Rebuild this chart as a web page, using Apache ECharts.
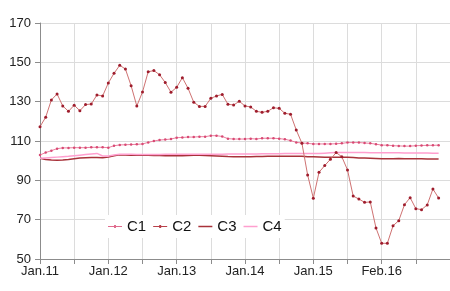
<!DOCTYPE html>
<html>
<head>
<meta charset="utf-8">
<script src="https://cdn.jsdelivr.net/npm/echarts@6/dist/echarts.min.js"></script>
<style>html,body{margin:0;padding:0;background:#fff}#c{width:450px;height:291px}</style>
</head>
<body>
<div id="c"></div>
<script>
var monthNames = ["Jan","Feb","Mar","Apr","May","Jun","Jul","Aug","Sep","Oct","Nov","Dec"];
var years = ["11","12","13","14","15","16","17"];
var tickLabels = ["Jan.11","Jan.12","Jan.13","Jan.14","Jan.15","Feb.16"];
var categories = [];
for (var y = 0; y < years.length; y++) {
  for (var m = 0; m < 12; m++) {
    if (categories.length < 73) categories.push(monthNames[m] + "." + years[y]);
  }
}
var c1 = [102.9,104.1,105.1,106.1,106.5,106.5,106.6,106.6,106.6,106.8,106.8,106.8,106.6,107.6,108.0,108.1,108.2,108.3,108.5,109.3,110.0,110.5,110.7,111.0,
111.7,111.8,112.0,112.0,112.2,112.2,112.7,112.7,112.3,111.2,111.0,111.0,111.0,111.2,111.0,111.4,111.4,111.4,111.2,110.9,110.2,109.3,109.0,108.8,
108.5,108.5,108.5,108.5,108.6,108.8,109.2,109.2,109.2,109.0,108.8,108.4,107.9,107.9,107.6,107.5,107.4,107.4,107.6,107.7,107.8,107.8,107.9];
var c2 = [117.3,122.1,130.9,133.9,127.8,125.1,128.2,125.4,128.5,128.8,133.4,132.9,139.5,144.4,148.5,146.6,138.1,127.8,134.9,145.2,145.8,143.7,139.7,134.8,
137.3,142.2,136.8,129.7,127.6,127.6,131.7,132.9,133.7,128.7,128.3,130.2,127.8,127.3,125.1,124.6,125.1,126.9,126.6,124.1,123.6,115.6,108.8,92.7,
80.9,94.1,97.5,100.7,104.1,102.0,95.3,82.0,80.5,78.8,79.0,65.8,58.0,58.0,66.9,69.5,77.6,81.2,75.6,75.1,77.5,85.6,81.0];
var c3 = [101.2,100.6,100.3,100.2,100.3,100.6,101.0,101.3,101.5,101.6,101.6,101.5,101.8,102.5,103.0,102.9,102.8,102.8,102.7,102.7,102.6,102.6,102.5,102.5,
102.5,102.5,102.6,102.8,102.8,102.6,102.5,102.4,102.3,102.1,102.0,102.0,102.0,102.0,102.1,102.1,102.2,102.2,102.2,102.3,102.3,102.3,102.2,102.0,
102.0,101.9,101.8,101.7,101.7,101.7,101.7,101.6,101.4,101.3,101.2,101.1,101.0,101.0,101.0,101.1,101.0,101.0,101.0,101.0,100.9,100.9,100.8];
var c4 = [101.2,101.4,101.6,101.8,102.0,102.2,102.5,102.8,103.1,103.4,103.7,102.4,102.4,102.9,103.3,103.3,103.2,103.1,103.1,103.1,103.1,103.1,103.2,103.2,
103.2,103.2,103.2,103.2,103.2,103.3,103.3,103.3,103.3,103.4,103.4,103.4,103.4,103.4,103.4,103.5,103.5,103.5,103.5,103.6,103.6,103.6,103.7,103.7,
103.6,103.6,103.8,104.0,104.1,104.1,104.1,104.1,104.1,104.1,104.0,104.0,104.0,104.0,104.0,104.0,103.9,103.9,103.9,103.9,103.9,103.8,103.8];

var font = "'Liberation Sans', Arial, sans-serif";
var iconDot = 'path://M0,1L14,1L14,2L0,2Z M6,0L8,0L8,3L6,3Z';
var iconLine = 'path://M0,0L14,0L14,1.5L0,1.5Z';
var chart = echarts.init(document.getElementById('c'), null, {renderer: 'canvas'});
chart.setOption({
  animation: false,
  backgroundColor: '#fff',
  grid: {left: 40, top: 23, width: 411, height: 236, containLabel: false},
  legend: {
    left: 105, top: 215, padding: [4, 3], itemGap: 7, itemWidth: 14, itemHeight: 10,
    backgroundColor: '#fff',
    textStyle: {fontFamily: font, fontSize: 15, color: '#111'},
    data: [
      {name: 'C1', icon: iconDot, itemStyle: {color: '#e06c8e'}},
      {name: 'C2', icon: iconDot, itemStyle: {color: '#b8404a'}},
      {name: 'C3', icon: iconLine},
      {name: 'C4', icon: iconLine}
    ]
  },
  xAxis: {
    type: 'category', data: categories, boundaryGap: false,
    axisLine: {lineStyle: {color: '#8c8c8c', width: 1}},
    axisTick: {show: true, length: 5, inside: false, lineStyle: {color: '#8c8c8c'},
      interval: function (i) { return i % 6 === 0; }},
    axisLabel: {fontFamily: font, fontSize: 13, color: '#222', margin: 6,
      interval: function (i) { return i % 12 === 0 && i < 72; },
      formatter: function (v, i) { return tickLabels[i / 12] || ''; }},
    splitLine: {show: true, lineStyle: {color: '#dcdcdc', width: 1},
      interval: function (i) { return i % 6 === 0; }}
  },
  yAxis: {
    type: 'value', min: 50, max: 170, interval: 20,
    axisLine: {show: true, lineStyle: {color: '#8c8c8c', width: 1}},
    axisTick: {show: true, length: 5, lineStyle: {color: '#8c8c8c'}},
    axisLabel: {fontFamily: font, fontSize: 13, color: '#222', margin: 9},
    splitLine: {show: true, lineStyle: {color: '#dcdcdc', width: 1}}
  },
  series: [
    {name: 'C1', type: 'line', data: c1, symbol: 'circle', symbolSize: 2.5, showSymbol: true,
     lineStyle: {color: '#ec7f9f', width: 1}, itemStyle: {color: '#d84a74'}, z: 4},
    {name: 'C2', type: 'line', data: c2, symbol: 'circle', symbolSize: 3, showSymbol: true,
     lineStyle: {color: '#cf7272', width: 1}, itemStyle: {color: '#9e1c2c'}, z: 5},
    {name: 'C3', type: 'line', data: c3, symbol: 'none',
     lineStyle: {color: '#a8323a', width: 1.5}, itemStyle: {color: '#a8323a'}, z: 2},
    {name: 'C4', type: 'line', data: c4, symbol: 'none',
     lineStyle: {color: '#ff9fcf', width: 1.5}, itemStyle: {color: '#ff9fcf'}, z: 3}
  ]
});
</script>
</body>
</html>
